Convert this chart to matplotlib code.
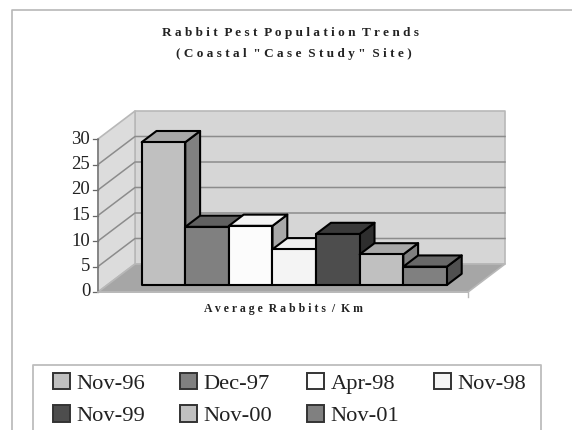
import matplotlib
matplotlib.use("Agg")
import matplotlib.pyplot as plt
from matplotlib.patches import Polygon, Rectangle

labels = ['Nov-96', 'Dec-97', 'Apr-98', 'Nov-98', 'Nov-99', 'Nov-00', 'Nov-01']
values = [28, 11.4, 11.6, 7, 10, 6, 3.6]
front_colors = ['#c0c0c0', '#808080', '#fcfcfc', '#f4f4f4', '#4d4d4d', '#c0c0c0', '#808080']
side_colors = ['#808080', '#404040', '#a8a8a8', '#a8a8a8', '#2e2e2e', '#808080', '#505050']
top_colors = ['#a8a8a8', '#606060', '#f4f4f4', '#f0f0f0', '#3a3a3a', '#a8a8a8', '#686868']
yticks = [0, 5, 10, 15, 20, 25, 30]
title_lines = ['Rabbit Pest Population Trends', '(Coastal "Case Study" Site)']
xlabel = 'Average Rabbits / Km'

W, H = 572, 430
plt.rcParams['font.family'] = 'Liberation Serif'
fig = plt.figure(figsize=(W / 100, H / 100), dpi=100)

# axes is the front plane of the 3d box
left, right, y0, y30 = 98, 468, 292, 139
ax = fig.add_axes([left / W, 1 - y0 / H, (right - left) / W, (y0 - y30) / H])
x0, x1 = -0.79, 7.696
ax.set_xlim(x0, x1)
ax.set_ylim(0, 30)
ax.axis('off')

# depth in x / y data units per full box depth
DX = 37 / 43.6
DY = 28 / 5.1


def pt(x, y, d=0.0):
    return (x + d * DX, y + d * DY)


def poly(pts, fc, ec='#b8b8b8', lw=1.2, z=1):
    ax.add_patch(Polygon(pts, closed=True, fc=fc, ec=ec, lw=lw, zorder=z, clip_on=False, joinstyle='round'))


def spaced(s):
    # the reference is letter-spaced, matplotlib has no tracking option
    return '  '.join(' '.join(word) for word in s.split(' '))


poly([pt(x0, 0, 1), pt(x1, 0, 1), pt(x1, 30, 1), pt(x0, 30, 1)], '#d6d6d6')
poly([pt(x0, 0), pt(x0, 0, 1), pt(x0, 30, 1), pt(x0, 30)], '#dcdcdc')
poly([pt(x0, 0), pt(x1, 0), pt(x1, 0, 1), pt(x0, 0, 1)], '#a6a6a6')

for t in yticks[1:-1]:
    ax.plot(*zip(pt(x0, t), pt(x0, t, 1), pt(x1, t, 1)), color='#8c8c8c', lw=1.1, zorder=2, clip_on=False)

for t in yticks:
    ax.plot(*zip(pt(x0, t), pt(x0 - 0.12, t)), color='#666666', lw=0.9, clip_on=False)
    ax.text(x0 - 0.18, t, str(t), ha='right', va='center', fontsize=13.5, color='#222222')
ax.plot(*zip(pt(x0, 0), pt(x0, 30)), color='#777777', lw=1.1, zorder=2, clip_on=False)
ax.plot(*zip(pt(x0, 0), pt(x1, 0)), color='#b8b8b8', lw=1.2, zorder=2, clip_on=False)
ax.plot([x1, x1], [0, -0.9], color='#b8b8b8', lw=1, clip_on=False)

# bars are drawn left to right so each one covers the side of the last
d0, d1 = 0.25, 0.65
for i in range(len(values)):
    v = values[i]
    poly([pt(i + 1, 0, d0), pt(i + 1, 0, d1), pt(i + 1, v, d1), pt(i + 1, v, d0)], side_colors[i], 'black', 1.5, 3 + i)
    poly([pt(i, v, d0), pt(i + 1, v, d0), pt(i + 1, v, d1), pt(i, v, d1)], top_colors[i], 'black', 1.5, 3 + i)
    poly([pt(i, 0, d0), pt(i + 1, 0, d0), pt(i + 1, v, d0), pt(i, v, d0)], front_colors[i], 'black', 1.5, 3 + i)

title_font = dict(fontweight='bold', color='#222222', ha='center', va='center')
fig.text(291 / W, 1 - 33 / H, spaced(title_lines[0]), fontsize=9.5, **title_font)
fig.text(293.5 / W, 1 - 53.5 / H, spaced(title_lines[1]), fontsize=9.5, **title_font)
fig.text(283 / W, 1 - 309 / H, spaced(xlabel), fontsize=8.5, **title_font)

# chart border, left and top edges only are in the picture
fig.add_artist(plt.Line2D([12 / W, 12 / W, 1], [0, 1 - 9.5 / H, 1 - 9.5 / H], color='#b8b8b8', lw=1.2))

# legend frame runs off the bottom of the image
fig.add_artist(plt.Line2D([33 / W, 33 / W, 541 / W, 541 / W], [0, 1 - 365 / H, 1 - 365 / H, 0],
                          color='#bdbdbd', lw=1.3))

# legend fills by column, this order reads row by row
order = [0, 4, 1, 5, 2, 6, 3]
handles = [Rectangle((0, 0), 1, 1, fc=front_colors[i], ec='#333333', lw=1.4) for i in order]
leg = fig.legend(handles, [labels[i] for i in order], ncols=4, loc='upper left',
                 bbox_to_anchor=(53 / W, 1 - 372.5 / H), borderaxespad=0, frameon=False, fontsize=16.2,
                 handlelength=0.755, handleheight=0.755, handletextpad=0.29, columnspacing=1.545,
                 labelspacing=0.52, borderpad=0, labelcolor='#222222')

fig.savefig('out.png', dpi=100)
